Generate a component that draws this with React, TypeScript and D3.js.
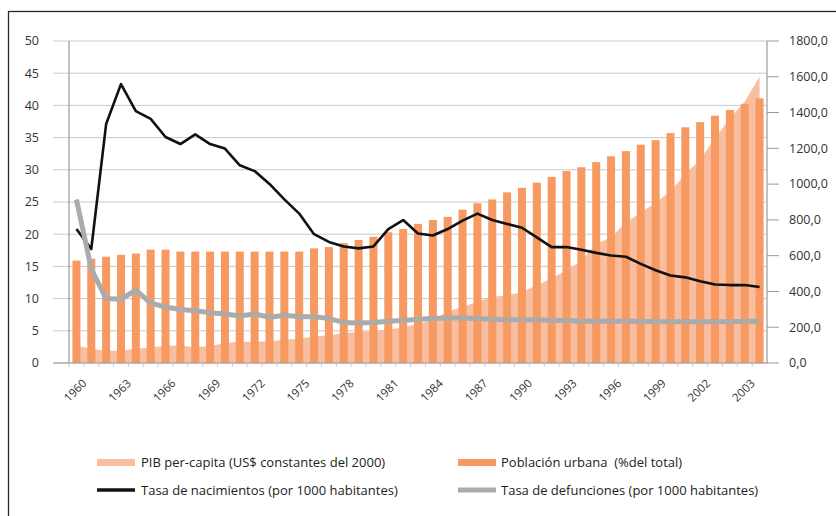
import React from "react";
import * as d3 from "d3";

// años 1960-2006
const years = d3.range(1960, 2007);
const tickLabels = ["1960", "1963", "1966", "1969", "1972", "1975", "1978", "1981", "1984", "1987", "1990", "1993", "1996", "1999", "2002", "2003"];

const leftTicks = [0, 5, 10, 15, 20, 25, 30, 35, 40, 45, 50];
const rightTicks = [0, 200, 400, 600, 800, 1000, 1200, 1400, 1600, 1800];

// Población urbana (% del total)
const urbanPop = [
  15.9, 16.2, 16.5, 16.8, 17.0, 17.6, 17.6, 17.3, 17.3, 17.3, 17.3, 17.3, 17.3, 17.3, 17.3, 17.3,
  17.8, 18.0, 18.6, 19.1, 19.6, 20.3, 20.8, 21.6, 22.2, 22.7, 23.8, 24.8, 25.4, 26.5, 27.2, 28.0,
  28.9, 29.8, 30.4, 31.2, 32.1, 32.9, 33.9, 34.6, 35.7, 36.6, 37.4, 38.4, 39.3, 40.2, 41.1,
];

// PIB per-capita (US$ constantes del 2000), eje derecho
const gdpPerCapita = [
  97, 79, 68, 68, 79, 86, 97, 97, 90, 94, 112, 119, 119, 122, 130, 137,
  148, 155, 166, 173, 180, 187, 198, 220, 241, 288, 313, 342, 371, 378, 396, 436,
  472, 518, 572, 666, 702, 785, 842, 896, 961, 1055, 1138, 1256, 1368, 1462, 1600,
];

// Tasa de nacimientos (por 1000 habitantes)
const birthRate = [
  20.8, 17.7, 37.1, 43.3, 39.1, 37.9, 35.1, 34.0, 35.5, 34.0, 33.3, 30.7, 29.8, 27.8, 25.4, 23.2,
  20.0, 18.8, 18.1, 17.8, 18.1, 20.8, 22.2, 20.1, 19.8, 20.8, 22.1, 23.2, 22.2, 21.6, 21.0, 19.5,
  18.0, 18.0, 17.6, 17.1, 16.7, 16.5, 15.4, 14.4, 13.6, 13.3, 12.7, 12.2, 12.1, 12.1, 11.8,
];

// Tasa de defunciones (por 1000 habitantes)
const deathRate = [
  25.4, 14.6, 10.0, 9.9, 11.3, 9.3, 8.7, 8.3, 8.1, 7.8, 7.6, 7.3, 7.6, 7.1, 7.4, 7.2,
  7.2, 6.9, 6.3, 6.2, 6.3, 6.5, 6.6, 6.8, 6.9, 7.0, 7.0, 6.9, 6.8, 6.7, 6.7, 6.7,
  6.6, 6.6, 6.5, 6.5, 6.5, 6.5, 6.5, 6.4, 6.4, 6.4, 6.4, 6.4, 6.4, 6.5, 6.5,
];

const W = 836;
const H = 516;
const FONT = "'Open Sans', 'Noto Sans', sans-serif";
const BAR = "#F79A62";
const AREA = "#F8BE9F";
const GRAY = "#ABABAB";
const GRID = "#C9C9C9";

const left = 69;
const right = 767;
const top = 41;
const bottom = 363;

export default function App() {
  const x = d3.scaleBand<number>().domain(years).range([left, right]).paddingInner(0.46).paddingOuter(0.23);
  const cx = (i: number) => (x(years[i]) as number) + x.bandwidth() / 2;
  const yL = d3.scaleLinear().domain([0, 50]).range([bottom, top]);
  const yR = d3.scaleLinear().domain([0, 1800]).range([bottom, top]);

  const area = d3
    .area<number>()
    .x((_, i) => cx(i))
    .y0(bottom)
    .y1((d) => yR(d));
  const line = d3
    .line<number>()
    .x((_, i) => cx(i))
    .y((d) => yL(d));

  const step = (right - left) / years.length;

  return (
    <svg width={W} height={H} style={{ position: "absolute", left: 0, top: 0, background: "#fff" }} fontFamily={FONT}>
      <rect x={8.5} y={11.5} width={W} height={H} fill="none" stroke="#2a2a2a" strokeWidth={1.3} />

      {/* rejilla */}
      {leftTicks.map((t) => (
        <line key={"g" + t} x1={53} x2={right} y1={yL(t)} y2={yL(t)} stroke={GRID} strokeWidth={1} />
      ))}

      <path d={area(gdpPerCapita) || ""} fill={AREA} />

      {urbanPop.map((v, i) => (
        <rect key={"b" + i} x={x(years[i])} y={yL(v)} width={x.bandwidth()} height={bottom - yL(v)} fill={BAR} />
      ))}

      <path d={line(birthRate) || ""} fill="none" stroke="#111" strokeWidth={2.6} strokeLinejoin="round" />
      <path d={line(deathRate) || ""} fill="none" stroke={GRAY} strokeWidth={5} strokeLinejoin="round" />

      {/* ejes */}
      <line x1={left} x2={left} y1={top} y2={bottom} stroke="#999" strokeWidth={1.2} />
      <line x1={right} x2={right} y1={top} y2={bottom} stroke="#999" strokeWidth={1.2} />
      <line x1={53} x2={right} y1={bottom} y2={bottom} stroke="#999" strokeWidth={1.2} />
      {years.map((yr, i) => (
        <line key={"xt" + yr} x1={left + step * i} x2={left + step * i} y1={bottom} y2={bottom + 4} stroke={GRID} />
      ))}
      {rightTicks.map((t) => (
        <line key={"rt" + t} x1={right} x2={right + 12} y1={yR(t)} y2={yR(t)} stroke="#999" />
      ))}

      {leftTicks.map((t) => (
        <text key={"lt" + t} x={39} y={yL(t)} dy="0.35em" textAnchor="end" fontSize={12.5} fill="#333">
          {t}
        </text>
      ))}
      {rightTicks.map((t) => (
        <text key={"rl" + t} x={789} y={yR(t)} dy="0.35em" textAnchor="start" fontSize={12.5} fill="#333">
          {d3.format(".1f")(t).replace(".", ",")}
        </text>
      ))}
      {tickLabels.map((lab, k) => {
        const px = cx(k * 3) + 11;
        const py = 384;
        return (
          <text key={"xl" + k} x={px} y={py} textAnchor="end" fontSize={11.5} fill="#333" transform={`rotate(-45 ${px} ${py})`}>
            {lab}
          </text>
        );
      })}

      {/* leyenda */}
      <g fontSize={13} fill="#222">
        <rect x={97} y={459} width={38} height={7} fill={AREA} />
        <text x={141} y={462} dy="0.35em">PIB per-capita (US$ constantes del 2000)</text>
        <rect x={458} y={459} width={38} height={7} fill={BAR} />
        <text x={501} y={462} dy="0.35em">{"Población urbana \u00a0(%del total)"}</text>
        <line x1={97} x2={135} y1={490} y2={490} stroke="#111" strokeWidth={3.5} />
        <text x={141} y={490} dy="0.35em">Tasa de nacimientos (por 1000 habitantes)</text>
        <line x1={458} x2={496} y1={490} y2={490} stroke={GRAY} strokeWidth={5} />
        <text x={501} y={490} dy="0.35em">Tasa de defunciones (por 1000 habitantes)</text>
      </g>
    </svg>
  );
}
